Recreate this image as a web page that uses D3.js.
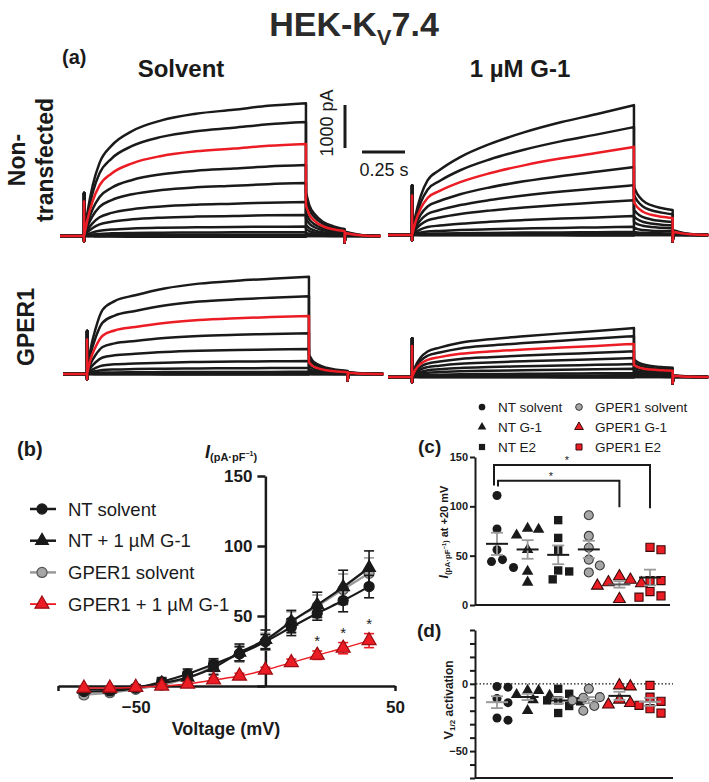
<!DOCTYPE html>
<html>
<head>
<meta charset="utf-8">
<script src="https://cdn.jsdelivr.net/npm/d3@7"></script>
<style>
  body { margin: 0; background: #fff; }
  text { font-family: "Liberation Sans", Arial, sans-serif; }
</style>
</head>
<body>
<svg id="fig" width="709" height="782"></svg>
<script>
/* ------------------------------------------------------------
   HEK-Kv7.4 figure: current traces, I-V curve, scatter panels
   ------------------------------------------------------------ */

/* ---------- (a) current traces ---------- */
const stepVoltages = [-70, -60, -50, -40, -30, -20, -10, 0, 10, 20, 30, 40];
const redVoltage = 20;
// current at the end of each step (pA)
const endCurrentNTSolvent   = [-20, 0, 30, 90, 220, 490, 790, 1230, 1650, 2140, 2650, 3090];
const endCurrentNTG1        = [-10, 0, 20, 70, 190, 440, 810, 1160, 1580, 2050, 2510, 3020];
const endCurrentGPERSolvent = [-10, 0, 0, 20, 50, 140, 300, 580, 950, 1350, 1810, 2260];
const endCurrentGPERG1      = [-10, 0, 15, 40, 90, 190, 300, 440, 600, 770, 950, 1140];
// activation time course (s after step, fraction of end current)
const activationTime        = [0, 0.02, 0.05, 0.09, 0.16, 0.28, 0.45, 0.65, 0.87, 1.07, 1.29];
const activationNTSolvent   = [0, 0.18, 0.38, 0.55, 0.68, 0.79, 0.87, 0.92, 0.95, 0.98, 1];
const activationNTG1        = [0, 0.15, 0.30, 0.42, 0.50, 0.60, 0.70, 0.79, 0.87, 0.93, 1];
const activationGPERSolvent = [0, 0.25, 0.47, 0.66, 0.75, 0.81, 0.88, 0.93, 0.96, 0.98, 1];
const activationGPERG1      = [0, 0.22, 0.40, 0.52, 0.60, 0.70, 0.77, 0.83, 0.89, 0.94, 1];
// tail current decay (s after pulse end, fraction of tail peak)
const tailTime = [0, 0.02, 0.05, 0.1, 0.16, 0.225];
const tailFast = [1, 0.7, 0.5, 0.32, 0.22, 0.16];
const tailSlow = [1, 0.85, 0.72, 0.62, 0.56, 0.52];
const postTime = [0, 0.05, 0.1, 0.2];
const postFrac = [0.1, 0.05, 0.02, 0];
// protocol (s)
const tStep = 0.14, pulseDur = 1.29, tailDur = 0.225, recEnd = 1.85;

/* ---------- (b) I-V relationship ---------- */
const ivVoltages = [-70, -60, -50, -40, -30, -20, -10, 0, 10, 20, 30, 40];
const ivNTSolvent      = [-4, -3.5, -1.5, 3, 8.6, 15.5, 23, 31.7, 42, 52, 61, 71];
const ivNTSolventErr   = [1.5, 1.5, 2, 3, 3.5, 4, 5, 5, 6, 5, 8, 8];
const ivNTG1           = [-2.5, -2.5, -1, 2, 6, 13, 24, 33, 46, 58, 70.7, 84.5];
const ivNTG1Err        = [1.5, 1.5, 2, 3, 4, 5, 6, 7, 8, 9, 12, 12];
const ivGPERSolvent    = [-6.4, -4.8, -2.4, 0.7, 5.5, 14, 23, 31.7, 46, 57, 69, 80.5];
const ivGPERSolventErr = [2, 2, 2, 3, 4, 5, 6, 6, 7, 8, 11, 11];
const ivGPERG1         = [-1.5, -1.5, -1, 0, 1.4, 4.3, 7.1, 11.4, 16.7, 22, 27, 32.4];
const ivGPERG1Err      = [1, 1, 1, 1.5, 1.5, 1.5, 2, 2, 2.5, 3, 4, 5];
const ivStarVoltages   = [20, 30, 40];

/* ---------- (c) current at +20 mV, (d) V1/2 ---------- */
const groups = ["NT solvent", "NT G-1", "NT E2", "GPER1 solvent", "GPER1 G-1", "GPER1 E2"];
const i20NTSolvent   = [111, 77, 56, 46, 38, 44];
const i20NTG1        = [76.5, 77.5, 70.7, 56, 34, 23];
const i20NTE2        = [86, 68, 56, 34, 35, 26];
const i20GPERSolvent = [91, 70, 58, 46, 40, 33];
const i20GPERG1      = [25.5, 29, 22, 19.5, 23, 6];
const i20GPERE2      = [58.5, 56, 24.8, 24.8, 13.6, 7.9, 9.2];
const vhNTSolvent    = [-2.5, -2, -14, -11, -27, -25.4];
const vhNTG1         = [-5, -5, -8.6, -12, -20, -8];
const vhNTE2         = [-3.7, -7.4, -12.3, -12.3, -16.5, -21.7, -13];
const vhGPERSolvent  = [-3.7, -9.9, -10.4, -12.3, -16.5, -20];
const vhGPERG1       = [-1.2, -2, -11.8, -15.5, -14.3];
const vhGPERE2       = [-1.2, -9.9, -13, -18.5, -21.7, -16];
const cTicks = [0, 50, 100, 150];
const dTicks = [-70, -60, -50, -40, -30, -20, -10, 0, 10, 20, 30, 40];

/* ------------------------------------------------------------
   SETUP
   ------------------------------------------------------------ */
const INK = "#1a1a1a";
const RED = "#ec1c24";
const svg = d3.select("#fig");
svg.append("rect").attr("width", 709).attr("height", 782).attr("fill", "#fff");

function label(x, y, txt, size, opts = {}) {
  return svg.append("text")
    .attr("x", x).attr("y", y)
    .attr("font-size", size)
    .attr("font-weight", opts.weight || "normal")
    .attr("text-anchor", opts.anchor || "start")
    .attr("fill", opts.fill || INK)
    .attr("transform", opts.rotate ? `rotate(-90, ${x}, ${y})` : null)
    .text(txt);
}

/* title */
const title = svg.append("text").attr("x", 354).attr("y", 36).attr("text-anchor", "middle")
  .attr("font-size", 34).attr("font-weight", "bold").attr("fill", "#2b2b2b");
title.append("tspan").text("HEK-K");
title.append("tspan").attr("font-size", 22).attr("dy", 9).text("V");
title.append("tspan").attr("dy", -9).text("7.4");

/* ------------------------------------------------------------
   (a) TRACES
   ------------------------------------------------------------ */
label(62, 64, "(a)", 20, { weight: "bold" });
label(181, 77, "Solvent", 24, { weight: "bold", anchor: "middle" });
label(520, 77, "1 µM G-1", 24, { weight: "bold", anchor: "middle" });
label(25, 160, "Non-", 23, { weight: "bold", anchor: "middle", rotate: true });
label(53, 160, "transfected", 23, { weight: "bold", anchor: "middle", rotate: true });
label(34, 327, "GPER1", 23, { weight: "bold", anchor: "middle", rotate: true });

const pxPerSec = 172, pxPerPA = 0.043;

const tracePanels = [
  { currents: endCurrentNTSolvent,   act: activationNTSolvent,   tail: tailFast, tailRatio: 0.33, spike: 1000, x0: 60,  y0: 236 },
  { currents: endCurrentNTG1,        act: activationNTG1,        tail: tailSlow, tailRatio: 0.37, spike: 1150, x0: 388, y0: 235 },
  { currents: endCurrentGPERSolvent, act: activationGPERSolvent, tail: tailFast, tailRatio: 0.2,  spike: 1000, x0: 63,  y0: 374 },
  { currents: endCurrentGPERG1,      act: activationGPERG1,      tail: tailSlow, tailRatio: 0.36, spike: 900,  x0: 388, y0: 377 }
];

function tracePath(p, I, isRed) {
  const x = d3.scaleLinear().domain([0, recEnd]).range([p.x0, p.x0 + recEnd * pxPerSec]);
  const y = d3.scaleLinear().domain([0, 1000]).range([p.y0, p.y0 - 1000 * pxPerPA]);
  const lin = d3.line().x(d => x(d[0])).y(d => y(d[1]));
  const smooth = d3.line().x(d => x(d[0])).y(d => y(d[1])).curve(d3.curveMonotoneX);
  const tailAmp = Math.max(0, I * p.tailRatio);
  const spike = p.spike * (isRed ? 0.8 : 1);
  const tEnd = tStep + pulseDur, tOff = tEnd + tailDur;
  const lastTail = tailAmp * p.tail[p.tail.length - 1];

  const segs = [
    [lin, [[0, 0], [tStep, 0], [tStep, -120], [tStep, spike], [tStep, 0]]],
    [smooth, activationTime.map((t, k) => [tStep + t, I * p.act[k]])],
    [lin, [[tEnd, I], [tEnd, tailAmp]]],
    [smooth, tailTime.map((t, k) => [tEnd + t, tailAmp * p.tail[k]])],
    [lin, [[tOff, lastTail], [tOff, -150], [tOff + 0.004, tailAmp * postFrac[0]]]],
    [smooth, postTime.map((t, k) => [tOff + 0.004 + t, tailAmp * postFrac[k]]).concat([[recEnd, 0]])]
  ];
  return segs.map(([gen, pts], i) => {
    const d = gen(pts);
    return i ? "L" + d.slice(1) : d;
  }).join("");
}

tracePanels.forEach(p => {
  const g = svg.append("g");
  stepVoltages.forEach((v, i) => {
    if (v === redVoltage) return;
    g.append("path").attr("d", tracePath(p, p.currents[i], false))
      .attr("fill", "none").attr("stroke", INK).attr("stroke-width", 2.5)
      .attr("stroke-linejoin", "round");
  });
  const ri = stepVoltages.indexOf(redVoltage);
  g.append("path").attr("d", tracePath(p, p.currents[ri], true))
    .attr("fill", "none").attr("stroke", RED).attr("stroke-width", 2.5)
    .attr("stroke-linejoin", "round");
});

/* scale bars */
const barY = d3.scaleLinear().domain([0, 1000]).range([148, 148 - 1000 * pxPerPA]);
const barX = d3.scaleLinear().domain([0, 0.25]).range([362, 362 + 0.25 * pxPerSec]);
svg.append("line").attr("x1", 345).attr("x2", 345).attr("y1", barY(0)).attr("y2", barY(1000))
  .attr("stroke", INK).attr("stroke-width", 3);
svg.append("line").attr("x1", barX(0)).attr("x2", barX(0.25)).attr("y1", 152).attr("y2", 152)
  .attr("stroke", INK).attr("stroke-width", 3);
label(333, 123, "1000 pA", 18, { anchor: "middle", rotate: true });
label(384, 176, "0.25 s", 18, { anchor: "middle" });

/* ------------------------------------------------------------
   (b) I-V
   ------------------------------------------------------------ */
label(17, 456, "(b)", 20, { weight: "bold" });

const xB = d3.scaleLinear().domain([-80, 50]).range([58, 395]);
const yB = d3.scaleLinear().domain([0, 150]).range([686, 476]);

const yTitle = svg.append("text").attr("x", 205).attr("y", 458).attr("font-weight", "bold").attr("fill", INK);
yTitle.append("tspan").attr("font-size", 18).attr("font-style", "italic").text("I");
yTitle.append("tspan").attr("font-size", 11).attr("dy", 3).text("(pA·pF");
yTitle.append("tspan").attr("font-size", 7).attr("dy", -5).text("−1");
yTitle.append("tspan").attr("font-size", 11).attr("dy", 5).text(")");

function styleAxis(g, size, width) {
  g.select(".domain").attr("stroke", INK).attr("stroke-width", width);
  g.selectAll(".tick line").attr("stroke", INK).attr("stroke-width", width);
  g.selectAll(".tick text").attr("font-family", '"Liberation Sans", Arial, sans-serif')
    .attr("font-size", size).attr("font-weight", "bold").attr("fill", INK);
}

svg.append("g").attr("transform", `translate(0,${yB(0)})`)
  .call(d3.axisBottom(xB).tickValues([-80, -50, 50]).tickSize(5).tickSizeOuter(0).tickPadding(10)
    .tickFormat(d => d === -80 ? "" : d3.format("d")(d)))
  .call(g => styleAxis(g, 17, 2.5));
svg.append("g").attr("transform", `translate(${xB(0)},0)`)
  .call(d3.axisLeft(yB).tickValues([0, 50, 100, 150]).tickSize(8).tickSizeOuter(0).tickPadding(5)
    .tickFormat(d => d === 0 ? "" : d))
  .call(g => styleAxis(g, 17, 2.5));
label(226, 735, "Voltage (mV)", 18, { weight: "bold", anchor: "middle" });

const ivSeries = [
  { name: "GPER1 solvent",    values: ivGPERSolvent, err: ivGPERSolventErr, line: "#9a9a9a", lw: 2.2, sym: d3.symbolCircle,   size: 80, fill: "#a6a6a6", stroke: "#555" },
  { name: "NT solvent",       values: ivNTSolvent,   err: ivNTSolventErr,   line: INK,       lw: 2.2, sym: d3.symbolCircle,   size: 80, fill: INK,       stroke: INK },
  { name: "NT + 1 µM G-1",    values: ivNTG1,        err: ivNTG1Err,        line: INK,       lw: 2.2, sym: d3.symbolTriangle, size: 70, fill: INK,       stroke: INK },
  { name: "GPER1 + 1 µM G-1", values: ivGPERG1,      err: ivGPERG1Err,      line: RED,       lw: 1.5, sym: d3.symbolTriangle, size: 85, fill: RED,       stroke: "#9b0d12" }
];

const ivLine = d3.line().x(d => xB(d[0])).y(d => yB(d[1])).curve(d3.curveMonotoneX);
ivSeries.forEach(s => {
  const g = svg.append("g");
  const pts = ivVoltages.map((v, i) => [v, s.values[i], s.err[i]]);
  pts.forEach(([v, m, e]) => {
    const x = xB(v);
    g.append("line").attr("x1", x).attr("x2", x).attr("y1", yB(m - e)).attr("y2", yB(m + e))
      .attr("stroke", s.line).attr("stroke-width", 1.6);
    [m - e, m + e].forEach(c => g.append("line").attr("x1", x - 5).attr("x2", x + 5)
      .attr("y1", yB(c)).attr("y2", yB(c)).attr("stroke", s.line).attr("stroke-width", 1.6));
  });
  g.append("path").attr("d", ivLine(pts)).attr("fill", "none").attr("stroke", s.line).attr("stroke-width", s.lw);
  g.selectAll("path.m").data(pts).enter().append("path").attr("class", "m")
    .attr("transform", d => `translate(${xB(d[0])},${yB(d[1])})`)
    .attr("d", d3.symbol().type(s.sym).size(s.size)())
    .attr("fill", s.fill).attr("stroke", s.stroke).attr("stroke-width", 1.2);
});
ivStarVoltages.forEach(v => {
  const i = ivVoltages.indexOf(v);
  label(xB(v), yB(ivGPERG1[i] + ivGPERG1Err[i]) - 5, "*", 15, { anchor: "middle" });
});

/* legend (b) */
const ivLegendOrder = ["NT solvent", "NT + 1 µM G-1", "GPER1 solvent", "GPER1 + 1 µM G-1"];
ivLegendOrder.forEach((name, i) => {
  const s = ivSeries.find(d => d.name === name);
  const cy = 509 + i * 31.7;
  svg.append("line").attr("x1", 30).attr("x2", 56).attr("y1", cy).attr("y2", cy)
    .attr("stroke", s.line).attr("stroke-width", s.lw + 0.3);
  svg.append("path").attr("transform", `translate(42,${cy})`)
    .attr("d", d3.symbol().type(s.sym).size(s.size)())
    .attr("fill", s.fill).attr("stroke", s.stroke).attr("stroke-width", 1.2);
  label(68, cy + 6.5, name, 18.5);
});

/* ------------------------------------------------------------
   (c) and (d) scatter
   ------------------------------------------------------------ */
const groupStyles = [
  { sym: d3.symbolCircle,   size: 64, fill: INK,       stroke: "none" },
  { sym: d3.symbolTriangle, size: 58, fill: INK,       stroke: "none" },
  { sym: d3.symbolSquare,   size: 70, fill: INK,       stroke: "none" },
  { sym: d3.symbolCircle,   size: 64, fill: "#a6a6a6", stroke: "#3a3a3a" },
  { sym: d3.symbolTriangle, size: 60, fill: RED,       stroke: "#3a0a0a" },
  { sym: d3.symbolSquare,   size: 66, fill: RED,       stroke: "#3a0a0a" }
];

/* legend (c) */
groups.forEach((name, i) => {
  const col = Math.floor(i / 3), row = i % 3;
  const cx = col ? 579 : 482, cy = 407 + row * 20;
  const st = groupStyles[i];
  svg.append("path").attr("transform", `translate(${cx},${cy})`)
    .attr("d", d3.symbol().type(st.sym).size(st.size * 0.55)())
    .attr("fill", st.fill).attr("stroke", st.stroke).attr("stroke-width", 1);
  label(cx + 16, cy + 5, name, 13.5);
});

function dodge(values, yScale, r) {
  const placed = [];
  const out = new Array(values.length);
  values.map((v, i) => ({ i, y: yScale(v) }))
    .sort((a, b) => a.y - b.y)
    .forEach(p => {
      for (let k = 0; k < 40; k++) {
        const off = (k % 2 ? 1 : -1) * Math.ceil(k / 2) * r * 1.1;
        if (placed.every(q => (q.x - off) ** 2 + (q.y - p.y) ** 2 >= (2 * r) ** 2)) {
          placed.push({ x: off, y: p.y });
          out[p.i] = off;
          break;
        }
      }
    });
  return out;
}

function scatterPanel(data, yScale, xScale, meanColors) {
  const g = svg.append("g");
  data.forEach((vals, gi) => {
    const st = groupStyles[gi];
    const cx = xScale(groups[gi]);
    const offs = dodge(vals, yScale, 5);
    vals.forEach((v, k) => {
      g.append("path").attr("transform", `translate(${cx + offs[k]},${yScale(v)})`)
        .attr("d", d3.symbol().type(st.sym).size(st.size)())
        .attr("fill", st.fill).attr("stroke", st.stroke).attr("stroke-width", 1.1);
    });
    const m = d3.mean(vals), sem = d3.deviation(vals) / Math.sqrt(vals.length);
    g.append("line").attr("x1", cx).attr("x2", cx).attr("y1", yScale(m - sem)).attr("y2", yScale(m + sem))
      .attr("stroke", "#9a9a9a").attr("stroke-width", 1.8);
    [m - sem, m + sem].forEach(c => g.append("line").attr("x1", cx - 6).attr("x2", cx + 6)
      .attr("y1", yScale(c)).attr("y2", yScale(c)).attr("stroke", "#9a9a9a").attr("stroke-width", 1.8));
    g.append("line").attr("x1", cx - 11).attr("x2", cx + 11).attr("y1", yScale(m)).attr("y2", yScale(m))
      .attr("stroke", meanColors[gi]).attr("stroke-width", 2);
  });
}

/* (c) */
label(418, 453, "(c)", 19, { weight: "bold" });
const xC = d3.scalePoint().domain(groups).range([497, 650]);
const yC = d3.scaleLinear().domain([0, 150]).range([605, 457]);
svg.append("g").attr("transform", "translate(475,0)")
  .call(d3.axisLeft(yC).tickValues(cTicks).tickSize(5).tickSizeOuter(0).tickPadding(2))
  .call(g => styleAxis(g, 11, 2));
svg.append("line").attr("x1", 475).attr("x2", 670).attr("y1", yC(0)).attr("y2", yC(0))
  .attr("stroke", INK).attr("stroke-width", 2);

const cTitle = svg.append("text").attr("transform", "translate(448,532) rotate(-90)")
  .attr("text-anchor", "middle").attr("font-weight", "bold").attr("fill", INK);
cTitle.append("tspan").attr("font-size", 12).attr("font-style", "italic").text("I");
cTitle.append("tspan").attr("font-size", 8).attr("dy", 2).text("(pA·pF");
cTitle.append("tspan").attr("font-size", 5.5).attr("dy", -4).text("−1");
cTitle.append("tspan").attr("font-size", 8).attr("dy", 2).text(")");
cTitle.append("tspan").attr("font-size", 11).attr("dy", 0).text(" at +20 mV");

scatterPanel([i20NTSolvent, i20NTG1, i20NTE2, i20GPERSolvent, i20GPERG1, i20GPERE2], yC, xC,
  [INK, INK, INK, INK, "#555", INK]);

/* significance brackets */
const sigBrackets = [
  { from: "NT solvent", to: "GPER1 E2",  top: 142, leftEnd: 121, rightEnd: 98,  dx: -3, star: 567 },
  { from: "NT solvent", to: "GPER1 G-1", top: 126, leftEnd: 120, rightEnd: 99,  dx: 1,  star: 551 }
];
sigBrackets.forEach(b => {
  const x1 = xC(b.from) + b.dx, x2 = xC(b.to);
  svg.append("path")
    .attr("d", `M${x1},${yC(b.leftEnd)}V${yC(b.top)}H${x2}V${yC(b.rightEnd)}`)
    .attr("fill", "none").attr("stroke", INK).attr("stroke-width", 2);
  label(b.star, yC(b.top) - 1, "*", 11, { anchor: "middle" });
});

/* (d) */
label(417, 637, "(d)", 19, { weight: "bold" });
const yD = d3.scaleLinear().domain([-70, 40]).range([778, 630]);
svg.append("g").attr("transform", "translate(475,0)")
  .call(d3.axisLeft(yD).tickValues(dTicks).tickSize(5).tickSizeOuter(0).tickPadding(2)
    .tickFormat(d => (d === 0 || d === -50) ? d3.format("d")(d) : ""))
  .call(g => styleAxis(g, 11, 2));
svg.append("line").attr("x1", 475).attr("x2", 673).attr("y1", yD(-70)).attr("y2", yD(-70))
  .attr("stroke", INK).attr("stroke-width", 2);
svg.append("line").attr("x1", 476).attr("x2", 673).attr("y1", yD(0)).attr("y2", yD(0))
  .attr("stroke", INK).attr("stroke-width", 1.2).attr("stroke-dasharray", "1.5,2");

const dTitle = svg.append("text").attr("transform", "translate(453,700) rotate(-90)")
  .attr("text-anchor", "middle").attr("fill", INK);
dTitle.append("tspan").attr("font-size", 13).attr("font-weight", "bold").text("V");
dTitle.append("tspan").attr("font-size", 8).attr("font-weight", "bold").attr("dy", 2).text("1/2");
dTitle.append("tspan").attr("font-size", 12).attr("font-weight", "600").attr("dy", -2).text("  activation");

scatterPanel([vhNTSolvent, vhNTG1, vhNTE2, vhGPERSolvent, vhGPERG1, vhGPERE2], yD, xC,
  ["#9a9a9a", INK, INK, "#9a9a9a", INK, "#9a9a9a"]);
</script>
</body>
</html>
